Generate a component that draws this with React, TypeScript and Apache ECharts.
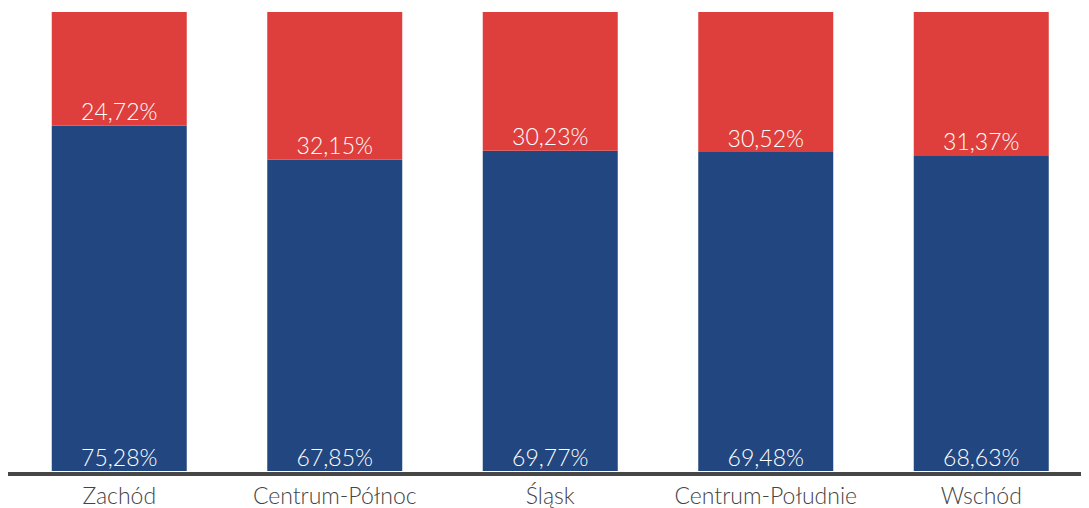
import React, { useEffect, useRef } from "react";
import * as echarts from "echarts";

const categories = ["Zachód", "Centrum-Północ", "Śląsk", "Centrum-Południe", "Wschód"];
const blueValues = [75.28, 67.85, 69.77, 69.48, 68.63];
const redValues = [24.72, 32.15, 30.23, 30.52, 31.37];

const fmt = (v: number) => v.toFixed(2).replace(".", ",") + "%";

export default function App() {
  const ref = useRef<HTMLDivElement>(null);
  useEffect(() => {
    if (!ref.current) return;
    const chart = echarts.init(ref.current, null, { renderer: "svg" });
    const labelStyle = {
      show: true,
      position: "insideBottom" as const,
      distance: 3,
      color: "#ffffff",
      fontFamily: "Lato",
      fontWeight: 300,
      fontSize: 23,
      formatter: (p: any) => fmt(p.value),
    };
    chart.setOption({
      animation: false,
      grid: { left: 3.5, width: 1080, top: 4, bottom: 36 },
      xAxis: {
        type: "category",
        data: categories,
        axisLine: { show: false },
        axisTick: { show: false },
        axisLabel: {
          interval: 0,
          color: "#444444",
          fontFamily: "Lato",
          fontWeight: 300,
          fontSize: 23,
          lineHeight: 26,
          margin: 11,
        },
      },
      yAxis: { type: "value", min: 0, max: 100, show: false, splitLine: { show: false } },
      series: [
        {
          type: "bar",
          stack: "s",
          data: blueValues,
          barWidth: 135,
          itemStyle: { color: "#22467f" },
          label: labelStyle,
        },
        {
          type: "bar",
          stack: "s",
          data: redValues,
          barWidth: 135,
          itemStyle: { color: "#de3f3c" },
          label: labelStyle,
        },
      ],
      graphic: [
        {
          type: "rect",
          shape: { x: 0, y: 464, width: 1081, height: 4 },
          style: { fill: "#474747" },
          z: 100,
        },
      ],
    });
    return () => chart.dispose();
  }, []);
  return <div ref={ref} style={{ width: 1081, height: 500 }} />;
}
